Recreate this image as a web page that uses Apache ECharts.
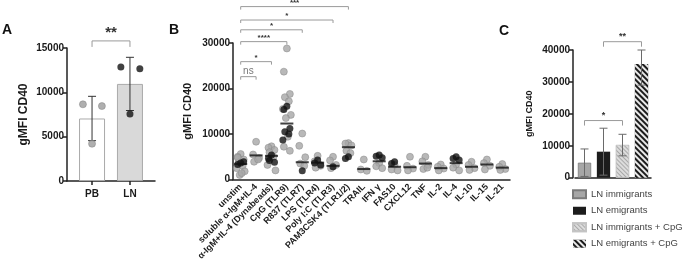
<!DOCTYPE html>
<html>
<head>
<meta charset="utf-8">
<script src="https://cdn.jsdelivr.net/npm/echarts@6/dist/echarts.min.js"></script>
<style>
html,body{margin:0;padding:0;background:#fff;}
#chart{width:682px;height:261px;}
</style>
</head>
<body>
<div id="chart"></div>
<script>
// ---- panel A ----
var catsA = ['PB', 'LN'];
var meanA = [7050, 10950];
var errLowA = [4550, 7950];
var errHighA = [9550, 13950];
var dotsPB = [8650, 8450, 4200];
var dotsLN = [12850, 12650, 7550];
var sigA = [[0, 1, 15800, '**']];

// ---- panel B ----
var catsB = ['unstim', 'soluble α-IgM+IL-4', 'α-IgM+IL-4 (Dynabeads)', 'CpG (TLR9)', 'R837 (TLR7)',
  'LPS (TLR4)', 'Poly I:C (TLR3)', 'PAM3CSK4 (TLR1/2)', 'TRAIL', 'IFN γ', 'FAS10', 'CXCL12',
  'TNF', 'IL-2', 'IL-4', 'IL-10', 'IL-15', 'IL-21'];
var meanB = [3400, 5300, 5200, 12300, 3800, 3700, 3000, 7100, 2300, 4000, 2800, 2700, 3500, 2500, 3600, 2800, 3300, 2600];
var grayB = [
  [5600, 5000, 4400, 3800, 3000, 2500, 1800, 1000, 1400, 4800],
  [8300, 5500, 4700, 3900, 4400],
  [7300, 7000, 6500, 6000, 5000, 3200, 2000],
  [28800, 23700, 18800, 18100, 17200, 15500, 14200, 13500, 9400, 7200, 6300],
  [10100, 7400, 4900, 3500, 3000],
  [5200, 4000, 3000, 2600],
  [5000, 4200, 3200, 2500],
  [8000, 7900, 7500, 6300, 5800],
  [4400, 2200, 1900],
  [3600, 2900, 2500],
  [3200, 2200, 2000],
  [5000, 3000, 2400, 2000],
  [5000, 4000, 3200, 2300, 2600],
  [3300, 2800, 2400, 2000],
  [3300, 2600, 2000],
  [3900, 3200, 2500, 2100],
  [4400, 3600, 3000, 2200],
  [3400, 2800, 2300, 2100]
];
var blackB = [
  [3600, 3300, 3900], [], [5400, 4600, 3800, 4200], [16100, 15400, 11200, 10500, 10000, 8700],
  [1900], [4300, 3600, 3200], [2800], [5000, 4600], [], [5400, 5100, 4800], [3900, 3500],
  [], [], [], [5000, 4600, 4300], [], [], []
];
var sigB = [[0, 1, 22600, 'ns'], [0, 2, 25900, '*'], [0, 3, 30300, '****'],
  [0, 4, 32900, '*'], [0, 6, 35050, '*'], [0, 7, 38000, '***']];

// ---- panel C ----
var catsC = ['LN immigrants', 'LN emigrants', 'LN immigrants + CpG', 'LN emigrants + CpG'];
var meanC = [4700, 8150, 10250, 35600];
var errLowC = [400, 800, 6850, 29000];
var errHighC = [9000, 15500, 13600, 40000];
var sigC = [[0, 2, 17900, '*'], [1, 3, 42600, '**']];

var FONT = "'Liberation Sans', Arial, sans-serif";
var chart = echarts.init(document.getElementById('chart'), null, {renderer: 'canvas'});

var jitter = [0, -3, 3, -2, 2, -4, 4, -1, 1, -3, 3];

function yAxisBase(grid, max, interval, nameGap, nameSize) {
  return {
    type: 'value', gridIndex: grid, min: 0, max: max, interval: interval,
    name: 'gMFI CD40', nameLocation: 'middle', nameGap: nameGap,
    nameTextStyle: {fontFamily: FONT, fontWeight: 'bold', fontSize: nameSize, color: '#1a1a1a'},
    axisLine: {show: true, onZero: false, lineStyle: {color: '#222', width: 1.5}},
    axisTick: {show: true, length: 4, lineStyle: {color: '#222', width: 1.5}},
    axisLabel: {fontFamily: FONT, fontWeight: 'bold', fontSize: 10, color: '#1a1a1a', margin: 3,
      formatter: function (v) { return String(v); }},
    splitLine: {show: false}
  };
}

function errRender(lowArr, highArr, cap, color) {
  return function (params, api) {
    var i = params.dataIndex;
    var x = api.value(0);
    var pLo = api.coord([x, lowArr[i]]);
    var pHi = api.coord([x, highArr[i]]);
    var st = {stroke: color, lineWidth: 1};
    return {type: 'group', children: [
      {type: 'line', shape: {x1: pLo[0], y1: pLo[1], x2: pHi[0], y2: pHi[1]}, style: st},
      {type: 'line', shape: {x1: pHi[0] - cap, y1: pHi[1], x2: pHi[0] + cap, y2: pHi[1]}, style: st},
      {type: 'line', shape: {x1: pLo[0] - cap, y1: pLo[1], x2: pLo[0] + cap, y2: pLo[1]}, style: st}
    ]};
  };
}

function sigRender(arr, drop, fontSize, labelGap) {
  return function (params, api) {
    var s = arr[params.dataIndex];
    var p1 = api.coord([s[0], s[2]]);
    var p2 = api.coord([s[1], s[2]]);
    var isNs = s[3] === 'ns';
    return {type: 'group', children: [
      {type: 'polyline', shape: {points: [[p1[0], p1[1] + drop], [p1[0], p1[1]], [p2[0], p2[1]], [p2[0], p2[1] + drop]]},
        style: {stroke: '#9a9a9a', lineWidth: 1, fill: null}},
      {type: 'text', x: (p1[0] + p2[0]) / 2, y: p1[1] - labelGap,
        style: {text: s[3], fill: isNs ? '#777' : '#333', fontSize: isNs ? 10 : fontSize,
          fontFamily: FONT, fontWeight: isNs ? 'normal' : 'bold', align: 'center', verticalAlign: 'bottom'}}
    ]};
  };
}

function dotData(groups) {
  var out = [];
  groups.forEach(function (vals, ci) {
    vals.forEach(function (v, j) {
      out.push({value: [ci, v], symbolOffset: [jitter[j % jitter.length], 0]});
    });
  });
  return out;
}

var series = [];

// A: bars, error bars, dots, bracket
series.push({
  type: 'bar', xAxisIndex: 0, yAxisIndex: 0, barWidth: 26,
  data: meanA.map(function (v, i) {
    return {value: [i, v], itemStyle: {color: i === 0 ? '#ffffff' : '#d9d9d9', borderColor: '#aaaaaa', borderWidth: 1}};
  }),
  silent: true
});
series.push({
  type: 'custom', xAxisIndex: 0, yAxisIndex: 0, data: meanA.map(function (v, i) { return [i, v]; }),
  renderItem: errRender(errLowA, errHighA, 4, '#333'), z: 3
});
series.push({
  type: 'scatter', xAxisIndex: 0, yAxisIndex: 0, symbolSize: 7, z: 4,
  data: dotsPB.map(function (v, j) { return [[-0.24, 0.26, 0][j], v]; }),
  itemStyle: {color: '#9b9b9b', borderColor: '#7e7e7e', borderWidth: 0.6}
});
series.push({
  type: 'scatter', xAxisIndex: 0, yAxisIndex: 0, symbolSize: 7, z: 4,
  data: dotsLN.map(function (v, j) { return [1 + [-0.24, 0.26, 0][j], v]; }),
  itemStyle: {color: '#111111'}
});
series.push({
  type: 'custom', xAxisIndex: 0, yAxisIndex: 0, data: sigA.map(function (s) { return [s[0], s[2]]; }),
  renderItem: function (params, api) {
    var s = sigA[params.dataIndex];
    var p1 = api.coord([s[0], s[2]]);
    var p2 = api.coord([s[1], s[2]]);
    return {type: 'group', children: [
      {type: 'polyline', shape: {points: [[p1[0], p1[1] + 6], [p1[0], p1[1]], [p2[0], p2[1]], [p2[0], p2[1] + 6]]}, style: {stroke: '#9a9a9a', lineWidth: 1, fill: null}},
      {type: 'text', x: (p1[0] + p2[0]) / 2, y: p1[1] - 1,
        style: {text: s[3], fill: '#333', fontSize: 15, fontFamily: FONT, fontWeight: 'bold', align: 'center', verticalAlign: 'bottom'}}
    ]};
  }
});

// B: dots, mean lines, brackets
series.push({
  type: 'scatter', xAxisIndex: 1, yAxisIndex: 1, symbolSize: 7, data: dotData(grayB),
  itemStyle: {color: '#a6a6a6', borderColor: '#858585', borderWidth: 0.6}
});
series.push({
  type: 'scatter', xAxisIndex: 1, yAxisIndex: 1, symbolSize: 7, data: dotData(blackB),
  itemStyle: {color: '#121212'}
});
series.push({
  type: 'scatter', xAxisIndex: 1, yAxisIndex: 1, symbol: 'rect', symbolSize: [13, 2], z: 5,
  data: meanB.map(function (v, i) { return [i, v]; }),
  itemStyle: {color: '#111'}
});
series.push({
  type: 'custom', xAxisIndex: 1, yAxisIndex: 1, data: sigB.map(function (s) { return [s[0], s[2]]; }),
  renderItem: sigRender(sigB, 3, 8, 0)
});

// C: bars (one series per group so the legend lists them), error bars, brackets
var styleC = [
  {color: '#a6a6a6', borderColor: '#7a7a7a', borderWidth: 0.8},
  {color: '#1c1c1c'},
  {color: '#dcdcdc', borderColor: '#c4c4c4', borderWidth: 0.6,
    decal: {symbol: 'rect', color: '#a9a9a9', dashArrayX: [1, 0], dashArrayY: [1, 2], rotation: Math.PI / 4}},
  {color: '#1c1c1c',
    decal: {symbol: 'rect', color: '#e8e8e8', dashArrayX: [1, 0], dashArrayY: [1.2, 1.6], rotation: Math.PI / 4}}
];
catsC.forEach(function (name, i) {
  series.push({
    type: 'bar', name: name, xAxisIndex: 2, yAxisIndex: 2, stack: 'c', barWidth: '70%',
    data: catsC.map(function (c, j) { return j === i ? meanC[i] : '-'; }),
    itemStyle: styleC[i]
  });
});
series.push({
  type: 'custom', xAxisIndex: 2, yAxisIndex: 2, data: meanC.map(function (v, i) { return [i, v]; }),
  renderItem: errRender(errLowC, errHighC, 4, '#6a6a6a'), z: 3
});
series.push({
  type: 'custom', xAxisIndex: 2, yAxisIndex: 2, data: sigC.map(function (s) { return [s[0], s[2]]; }),
  renderItem: sigRender(sigC, 5, 9, 1)
});

var option = {
  backgroundColor: '#fff',
  animation: false,
  title: [
    {text: 'A', left: -3, top: 18, textStyle: {fontFamily: FONT, fontSize: 14, fontWeight: 'bold', color: '#111'}},
    {text: 'B', left: 164, top: 18, textStyle: {fontFamily: FONT, fontSize: 14, fontWeight: 'bold', color: '#111'}},
    {text: 'C', left: 494, top: 19, textStyle: {fontFamily: FONT, fontSize: 14, fontWeight: 'bold', color: '#111'}}
  ],
  legend: {
    data: catsC, orient: 'vertical', left: 567, top: 183, itemWidth: 13, itemHeight: 8, itemGap: 4,
    icon: 'rect', selectedMode: false,
    textStyle: {fontFamily: FONT, fontSize: 9.5, color: '#444', lineHeight: 12.5}
  },
  grid: [
    {left: 67, top: 48, width: 88, height: 133, outerBoundsMode: 'none'},
    {left: 233, top: 43, width: 277, height: 136.5, outerBoundsMode: 'none'},
    {left: 575, top: 50, width: 76, height: 127.7, outerBoundsMode: 'none'}
  ],
  xAxis: [
    {type: 'value', gridIndex: 0, min: -0.66, max: 1.66,
      axisLine: {onZero: false, lineStyle: {color: '#222', width: 1.5}},
      axisTick: {show: true, customValues: [0, 1], length: 4, lineStyle: {color: '#222', width: 1.5}},
      axisLabel: {customValues: [0, 1], formatter: function (v) { return catsA[v]; },
        fontFamily: FONT, fontWeight: 'bold', fontSize: 10, color: '#1a1a1a', margin: 8},
      splitLine: {show: false}},
    {type: 'category', gridIndex: 1, data: catsB,
      axisLine: {onZero: false, lineStyle: {color: '#222', width: 1.5}},
      axisTick: {alignWithLabel: true, length: 5, lineStyle: {color: '#222', width: 1.5}},
      axisLabel: {interval: 0, rotate: 45, fontFamily: FONT, fontWeight: 'bold', fontSize: 9, color: '#1a1a1a', margin: 6}},
    {type: 'category', gridIndex: 2, data: catsC,
      axisLine: {onZero: false, lineStyle: {color: '#222', width: 1.5}},
      axisTick: {show: false}, axisLabel: {show: false}}
  ],
  yAxis: [
    yAxisBase(0, 15000, 5000, 37, 12),
    yAxisBase(1, 30000, 10000, 40, 11),
    Object.assign(yAxisBase(2, 40000, 10000, 39, 9), {offset: 2})
  ],
  series: series
};

chart.setOption(option);
</script>
</body>
</html>
